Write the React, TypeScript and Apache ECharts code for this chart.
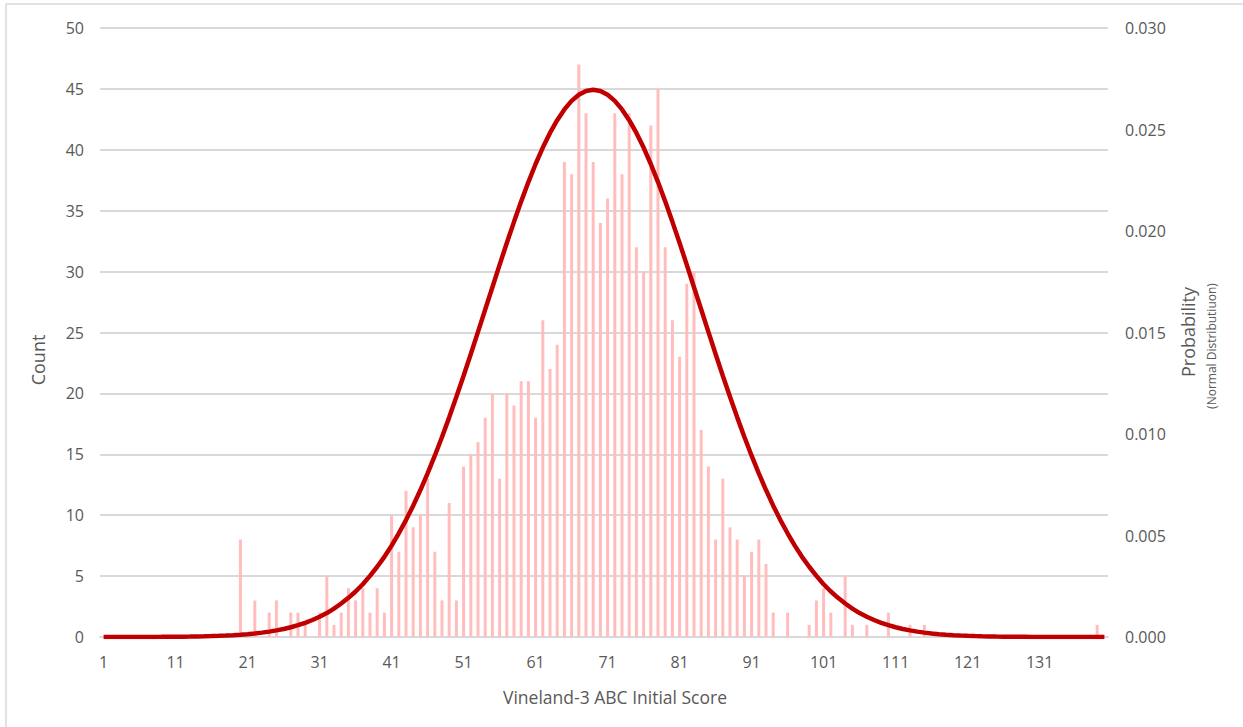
import React, { useEffect, useRef } from "react";
import * as echarts from "echarts";

const scores: string[] = Array.from({ length: 140 }, (_, i) => String(i + 1));

const counts: number[] = [
  0, 0, 0, 0, 0, 0, 0, 0, 0, 0,
  0, 0, 0, 0, 0, 0, 0, 0, 0, 8,
  0, 3, 0, 2, 3, 0, 2, 2, 1, 0,
  2, 5, 1, 2, 4, 3, 4, 2, 4, 2,
  10, 7, 12, 9, 10, 13, 7, 3, 11, 3,
  14, 15, 16, 18, 20, 13, 20, 19, 21, 21,
  18, 26, 22, 24, 39, 38, 47, 43, 39, 34,
  36, 43, 38, 43, 32, 30, 42, 45, 32, 26,
  23, 29, 30, 17, 14, 8, 13, 9, 8, 5,
  7, 8, 6, 2, 0, 2, 0, 0, 1, 3,
  4, 2, 0, 5, 1, 0, 1, 0, 0, 2,
  0, 0, 1, 0, 1, 0, 0, 0, 0, 0,
  0, 0, 0, 0, 0, 0, 0, 0, 0, 0,
  0, 0, 0, 0, 0, 0, 0, 0, 1, 0,
];

const probability: number[] = [
  0.0000007, 0.000001, 0.0000013, 0.0000017, 0.0000023, 0.0000031, 0.0000042, 0.0000055, 0.0000073, 0.0000095,
  0.0000125, 0.0000162, 0.000021, 0.0000271, 0.0000347, 0.0000443, 0.0000562, 0.0000711, 0.0000896, 0.000112,
  0.00014, 0.000174, 0.000215, 0.000265, 0.000325, 0.000396, 0.000481, 0.000581, 0.000699, 0.000838,
  0.001, 0.00118, 0.0014, 0.00165, 0.00193, 0.00224, 0.0026, 0.00301, 0.00346, 0.00395,
  0.0045, 0.00511, 0.00576, 0.00647, 0.00724, 0.00806, 0.00893, 0.00985, 0.01082, 0.01183,
  0.01287, 0.01394, 0.01503, 0.01613, 0.01723, 0.01833, 0.01941, 0.02045, 0.02146, 0.02241,
  0.0233, 0.02411, 0.02483, 0.02546, 0.02599, 0.02641, 0.02671, 0.0269, 0.02696, 0.0269,
  0.02671, 0.02641, 0.02599, 0.02546, 0.02483, 0.02411, 0.0233, 0.02241, 0.02146, 0.02045,
  0.01941, 0.01833, 0.01723, 0.01613, 0.01503, 0.01394, 0.01287, 0.01183, 0.01082, 0.00985,
  0.00893, 0.00806, 0.00724, 0.00647, 0.00576, 0.00511, 0.0045, 0.00395, 0.00346, 0.00301,
  0.0026, 0.00224, 0.00193, 0.00165, 0.0014, 0.00118, 0.001, 0.000838, 0.000699, 0.000581,
  0.000481, 0.000396, 0.000325, 0.000265, 0.000215, 0.000174, 0.00014, 0.000112, 0.0000896, 0.0000711,
  0.0000562, 0.0000443, 0.0000347, 0.0000271, 0.000021, 0.0000162, 0.0000125, 0.0000095, 0.0000073, 0.0000055,
  0.0000042, 0.0000031, 0.0000023, 0.0000017, 0.0000013, 0.000001, 0.0000007, 0.0000005, 0.0000004, 0.0000003,
];

const FONT = "'Open Sans', 'Noto Sans', sans-serif";
const LABEL = "#595959";

export default function App() {
  const ref = useRef<HTMLDivElement>(null);
  useEffect(() => {
    if (!ref.current) return;
    const chart = echarts.init(ref.current, null, { renderer: "svg" });
    chart.setOption({
      animation: false,
      backgroundColor: "#ffffff",
      textStyle: { fontFamily: FONT },
      grid: { left: 100, right: 135, top: 28, bottom: 90, containLabel: false },
      xAxis: {
        type: "category",
        data: scores,
        boundaryGap: true,
        axisLine: { show: true, lineStyle: { color: "#d9d9d9", width: 2 } },
        axisTick: { show: false },
        axisLabel: {
          interval: 9,
          color: LABEL,
          fontSize: 16,
          fontFamily: FONT,
          margin: 17,
        },
        splitLine: { show: false },
      },
      yAxis: [
        {
          type: "value",
          min: 0,
          max: 50,
          interval: 5,
          axisLine: { show: false },
          axisTick: { show: false },
          axisLabel: { color: LABEL, fontSize: 16, fontFamily: FONT, margin: 16 },
          splitLine: { show: true, lineStyle: { color: "#d9d9d9", width: 2 } },
        },
        {
          type: "value",
          min: 0,
          max: 0.03,
          interval: 0.005,
          position: "right",
          axisLine: { show: false },
          axisTick: { show: false },
          axisLabel: {
            color: LABEL,
            fontSize: 16,
            fontFamily: FONT,
            margin: 17,
            formatter: (v: number) => v.toFixed(3),
          },
          splitLine: { show: false },
        },
      ],
      series: [
        {
          type: "bar",
          name: "Count",
          data: counts,
          yAxisIndex: 0,
          barWidth: 3,
          itemStyle: { color: "#ffbdbd" },
        },
        {
          type: "line",
          name: "Probability",
          data: probability,
          yAxisIndex: 1,
          showSymbol: false,
          symbol: "none",
          smooth: false,
          lineStyle: { color: "#c00000", width: 4.5 },
        },
      ],
      graphic: [
        {
          type: "rect",
          shape: { x: 6, y: 4, width: 1250, height: 740 },
          style: { fill: "none", stroke: "#d9d9d9", lineWidth: 1.5 },
          silent: true,
        },
        {
          type: "text",
          x: 38,
          y: 360,
          rotation: Math.PI / 2,
          style: {
            text: "Count",
            fill: LABEL,
            font: `18px ${FONT}`,
            align: "center",
            verticalAlign: "middle",
          },
        },
        {
          type: "text",
          x: 615,
          y: 697,
          style: {
            text: "Vineland-3 ABC Initial Score",
            fill: LABEL,
            font: `17.5px ${FONT}`,
            align: "center",
            verticalAlign: "middle",
          },
        },
        {
          type: "text",
          x: 1188,
          y: 332,
          rotation: Math.PI / 2,
          style: {
            text: "Probability",
            fill: LABEL,
            font: `18px ${FONT}`,
            align: "center",
            verticalAlign: "middle",
          },
        },
        {
          type: "text",
          x: 1211,
          y: 346,
          rotation: Math.PI / 2,
          style: {
            text: "(Normal Distributiuon)",
            fill: LABEL,
            font: `12px ${FONT}`,
            align: "center",
            verticalAlign: "middle",
          },
        },
      ],
    });
    return () => chart.dispose();
  }, []);
  return (
    <div
      ref={ref}
      style={{ position: "fixed", left: 0, top: 0, width: 1243, height: 727 }}
    />
  );
}
